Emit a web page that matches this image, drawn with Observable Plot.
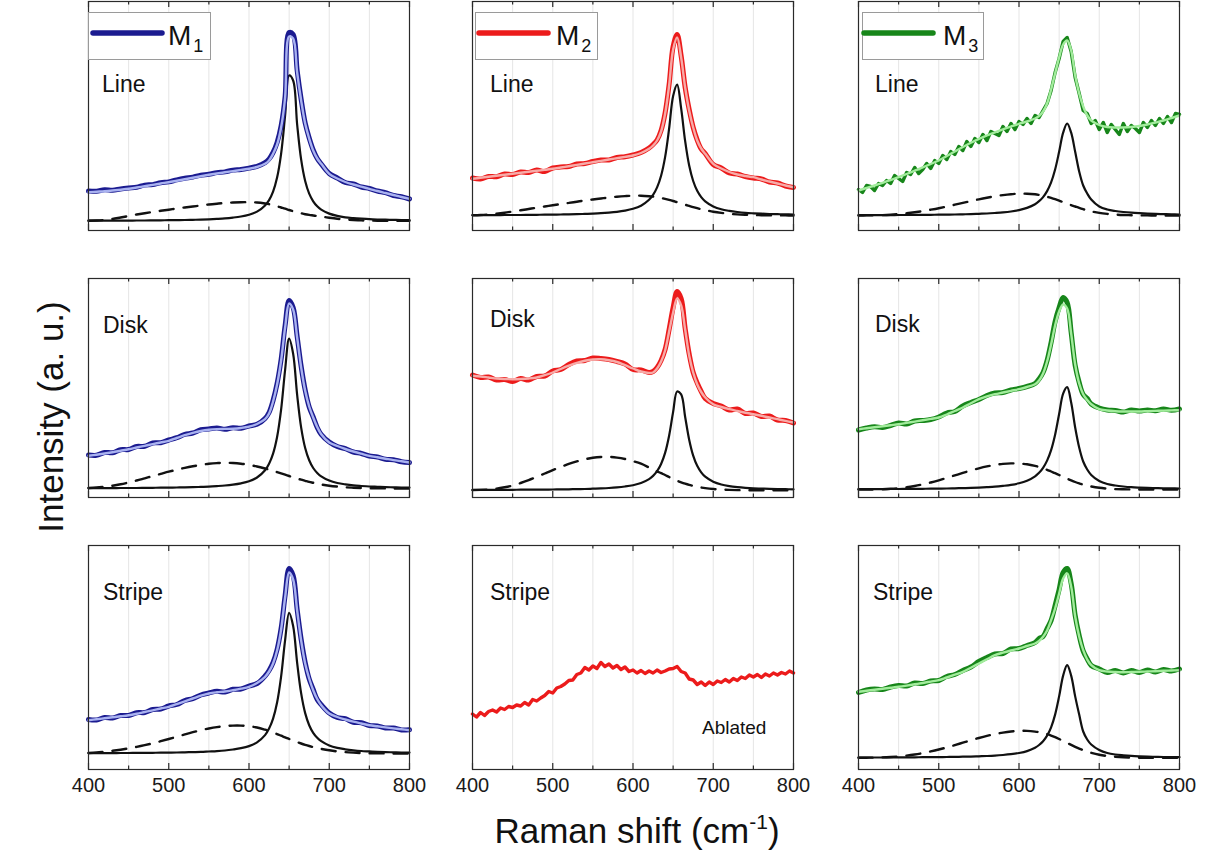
<!DOCTYPE html>
<html><head><meta charset="utf-8">
<script src="https://cdn.jsdelivr.net/npm/d3@7"></script>
<script src="https://cdn.jsdelivr.net/npm/@observablehq/plot@0.6"></script>
<style>
body{margin:0;background:#fff;}
#fig{position:relative;width:1207px;height:861px;overflow:hidden;font-family:"Liberation Sans",Arial,sans-serif;background:#fff;}
.panel{position:absolute;}
#overlay{position:absolute;left:0;top:0;pointer-events:none;}
</style></head>
<body><div id="fig"></div>
<script>
// Raman shift grid (cm^-1) for fits and components
const shift = [400,410,420,430,440,450,460,470,480,490,500,510,520,530,540,550,560,570,580,590,600,610,620,
  625,630,635,640,645,650,655,660,665,670,675,680,685,690,
  700,710,720,730,740,750,760,770,780,790,800];
// finer grid used by the two noisiest raw spectra
const shiftFine = [400,405,410,415,420,425,430,435,440,445,450,455,460,465,470,475,480,485,490,495,
  500,505,510,515,520,525,530,535,540,545,550,555,560,565,570,575,580,585,590,595,
  600,605,610,615,620,625,630,635,640,645,650,655,660,665,670,675,680,685,690,695,
  700,705,710,715,720,725,730,735,740,745,750,755,760,765,770,775,780,785,790,795,800];
const majorTicks = [400,500,600,700,800];
const minorTicks = [450,550,650,750];
const gridTicks = [450,500,550,600,650,700,750];

const materials = ["M1","M2","M3"];
const samples = ["Line","Disk","Stripe"];
const darkColors = ["#1b1b90","#ec1b1b","#17861a"];
const lightColors = ["#a9b2f0","#f7aba8","#a2ec9c"];

// M1 Line
const m1LineRaw = [39.5,39.2,40.8,40.3,41.6,42.5,43.2,45.4,45.9,47.8,48.6,50.6,52.2,53.4,55.3,56.2,57.9,58.6,60.4,61,62.4,64.2,67.8,
  71.5,78,88,104.5,134,198,196,160,131,107.5,92.5,80.5,72,66.5,
  57,52.5,48,46.5,43.5,42,39.5,37.8,35,33.8,31.5];
const m1LineFit = [38.3,38.8,39.3,40,40.8,41.7,43,44.3,45.6,47,48.3,49.8,51.3,52.8,54.3,55.7,57,58.2,59.4,60.6,61.7,63.5,66.7,
  70,76.7,86,103,133,194,192,158,130,107,92,80,72,66.7,
  56.7,52,48.5,46,43.8,41.7,39.5,37.5,35.5,33.5,31.7];
const m1LinePeak = [9.8,9.8,9.8,9.9,9.9,9.9,10,10,10.1,10.2,10.3,10.4,10.5,10.7,10.9,11.2,11.6,12.1,12.9,14,15.8,18.9,25.1,
  30.4,38.9,52.9,76.7,115,155,150,106,70.8,49.5,36.8,29.2,24.2,20.8,
  16.9,14.6,13.2,12.4,11.8,11.3,11,10.8,10.6,10.4,10.3];
const m1LineBroad = [9.8,10,10.5,11.5,13,14.5,16,17.3,18.5,19.7,20.8,22,23,24,25,26,26.8,27.5,28,28.3,28.3,28,27,
  26.3,25.3,24.2,23,21.8,20.5,19.3,18.2,17.2,16.3,15.6,15,14.4,13.9,
  12.8,11.8,11,10.5,10.1,9.9,9.8,9.8,9.8,9.8,9.8];

// M2 Line
const m2LineRaw = [52.5,51.5,54,53.8,56.5,56,58.5,58,60.5,59,62.5,63.5,64,66.5,67,69,70.5,70.5,73,73.8,75.5,78,82.5,
  86,90.5,100,117.5,146,184,196,174.5,143,121,103,90.5,81.5,77,
  66,62.5,57.5,56.5,54,52.5,51.5,48.5,47.5,44.5,43];
const m2LineFit = [51.7,52.7,53.7,54.7,55.7,56.7,57.7,58.7,59.7,60.7,61.7,63,64.3,65.6,67,68.3,69.6,71,72.3,73.6,75,77.5,81.7,
  85,90,99,116.7,145,181,193,173,143,120,103,90,82,76.7,
  66.7,62,58.5,56,54.5,53.3,51,49,47,45,43.3];
const m2LinePeak = [15.3,15.4,15.4,15.4,15.5,15.5,15.5,15.6,15.7,15.8,15.9,16,16.1,16.3,16.6,16.9,17.3,17.9,18.7,19.9,21.7,24.8,30.7,
  35.6,43.1,54.8,73.4,101.8,134.5,145.9,122.1,89.3,64.9,49.5,39.7,33.4,29.2,
  24.1,21.2,19.6,18.5,17.7,17.2,16.8,16.5,16.3,16.1,16];
const m2LineBroad = [15.2,15.5,16,16.8,17.8,19,20.2,21.5,22.8,24,25.2,26.4,27.6,28.8,30,31,32,33,33.8,34.4,34.8,34.8,34.3,
  33.9,33.3,32.5,31.6,30.6,29.5,28.3,27.1,25.8,24.6,23.4,22.3,21.3,20.4,
  18.8,17.6,16.7,16.1,15.7,15.4,15.3,15.2,15.1,15.1,15];

// M3 Line (raw on the fine grid)
const m3LineRaw = [41,38,45,44,40,47,45,50,47,55,
  52,49,58,56,63,57,61,67,62,70,
  67,75,71,79,76,84,80,89,84,92,
  88,96,90,99,97,95,104,99,107,101,
  109,106,112,107,115,113,120,127,140,158,
  172,189,193,179,153,137,120,117,107,110,
  101,108,98,106,101,96,107,99,105,102,
  98,108,103,110,105,112,107,114,108,117,116];
const m3LineFit = [40,42.5,45,47.7,50.5,53.3,56.5,59.8,63.1,66.5,70,74.5,79,83.5,87.8,91.7,95,98.2,101.2,104,106.7,109,112,
  114.5,119,127,141,157,173,186,190,180,155,137,124,115,110,
  105.5,103.5,103,103,103.5,104.5,106,108,110,112.5,115];
const m3LinePeak = [15.3,15.3,15.4,15.4,15.4,15.5,15.5,15.6,15.6,15.7,15.8,15.9,16,16.2,16.4,16.7,17,17.5,18.1,19,20.4,22.6,26.3,
  29.3,33.4,39.4,48.1,61,78.7,97.8,107,97.8,78.7,59,45,37,31,
  24,21,19.5,18.5,17.8,17.3,16.9,16.6,16.4,16.2,16];
const m3LineBroad = [15,15.1,15.2,15.4,15.8,16.4,17.2,18.2,19.4,20.8,22.3,24,25.8,27.6,29.4,31.2,32.8,34.2,35.4,36.3,36.8,36.8,36.2,
  35.6,34.8,33.8,32.6,31.3,29.9,28.4,26.9,25.4,24,22.6,21.3,20.1,19.1,
  17.6,16.6,15.9,15.5,15.3,15.1,15.1,15,15,15,15];

// M1 Disk
const m1DiskRaw = [42.5,42.2,45,44.8,47.8,48,51,51.2,54.5,54.8,57.5,59.8,63.2,64.5,67.8,68.5,69.5,68.2,69.8,69.2,71.5,73.2,79,
  85,97,114,138,172,197,190,161,131,107.5,90.5,80.5,70,63,
  55.5,51,48.8,45.5,44,41.5,40.5,38.2,37.8,35.8,35];
const m1DiskFit = [41.7,42.8,44,45.3,46.8,48.3,50,51.7,53.4,55,56.7,59.5,62.3,64.6,66.5,67.8,68.4,68.6,68.8,69.5,70.8,73.5,78.3,
  84,96,113,137,170,194,188,160,130,106.7,91,80,70.5,63.3,
  55,51.5,48.5,46,43.8,41.7,40.2,38.8,37.4,36.2,35];
const m1DiskPeak = [9.3,9.3,9.4,9.4,9.5,9.5,9.5,9.6,9.7,9.8,9.9,10,10.1,10.3,10.6,10.9,11.4,12,12.9,14.2,16.2,20,27.3,
  33.8,43.9,60.5,87.8,127.7,158.8,143.7,102.6,69.9,49.5,37.2,29.5,24.6,21.1,
  16.9,14.5,13.1,12.1,11.5,11,10.7,10.4,10.2,10,9.9];
const m1DiskBroad = [9.5,10,10.8,11.8,13.2,15,17,19.2,21.4,23.6,25.8,27.8,29.6,31.2,32.6,33.7,34.4,34.7,34.5,33.8,32.6,31,29,
  27.9,26.7,25.4,24.1,22.8,21.5,20.2,19,17.8,16.7,15.6,14.7,13.8,13,
  11.8,10.9,10.2,9.8,9.5,9.3,9.2,9.1,9,9,9];

// M2 Disk
const m2DiskRaw = [122.5,120,120.5,117.5,118,116,119,117.5,121,121.5,126.5,128,133,136.5,137,139.5,139,138,136,133.5,128,127.5,125,
  126,130,137,148,168,190,206,199,169,143.5,125,114.5,106,99,
  94,91.5,87.5,88.5,84,84.5,81,81.5,77.5,77,74.5];
const m2DiskFit = [121.7,121,120,119,118.5,118.3,118.5,119,120,122.3,125,128.5,131.8,134.7,136.8,138,138.2,137.3,135.5,132.3,129,126,124.5,
  125,129,136,147,166,185,199,192,168,142,125,113.3,105.5,100,
  93.3,90.5,88.3,86.5,84.8,83.3,81.7,80,78.3,76.6,75];
const m2DiskPeak = [7.6,7.6,7.6,7.6,7.7,7.7,7.8,7.8,7.8,7.9,8,8.1,8.2,8.4,8.5,8.8,9.1,9.5,10.1,11,12.3,14.5,18.4,
  21.6,26.3,33.5,44.6,61.8,85.6,106,103.1,80.5,57.8,41.9,31.7,25.2,20.8,
  15.8,13,11.4,10.4,9.7,9.2,8.9,8.6,8.4,8.3,8.1];
const m2DiskBroad = [7.4,7.6,8,8.8,10.2,12,14.5,17.4,20.6,24,27.4,30.6,33.6,36.1,38.2,39.7,40.5,40.6,39.9,38.5,36.4,33.8,30,
  28,26.2,24.3,22.5,20.5,18.6,16.8,15.2,13.8,12.6,11.6,10.7,10,9.4,
  8.5,7.9,7.6,7.4,7.3,7.3,7.3,7.3,7.3,7.3,7.3];

// M3 Disk
const m3DiskRaw = [67.5,69.5,70.8,70,72,74.5,73.5,76.5,77,78,80.5,84.5,86,91.5,95,98,102,104.5,105,107.5,109,111,114,
  118.5,125,137,155,176,190,200,195,165,132,115,103,99,93.5,
  89.5,87.5,87,85.5,87.5,86.5,87.5,86.8,88.5,87.2,88.5];
const m3DiskFit = [68.3,69.3,70.3,71.3,72.3,73.3,74.6,75.9,77.2,78.6,80,83,86.5,90,94.2,98.3,101.2,103.3,105,106.7,108.3,110.5,113.3,
  117,124,136,153,172,186,193,189,164,133,114,103.3,97.5,93.3,
  88.3,87,86.3,86,86,86,86.3,86.6,86.9,87.1,87.3];
const m3DiskPeak = [8.3,8.4,8.4,8.4,8.5,8.5,8.6,8.6,8.7,8.8,8.9,9,9.2,9.4,9.6,9.9,10.3,10.8,11.6,12.6,14.2,16.8,21.2,
  24.7,29.7,36.9,47.4,62.8,83.5,103.9,110.3,95,70,50,36,28,22.5,
  16.5,13.5,12,11,10.3,9.9,9.6,9.4,9.2,9.1,9];
const m3DiskBroad = [8,8,8.1,8.3,8.7,9.3,10.2,11.5,13.1,15,17.2,19.6,22.1,24.6,27,29.2,31.1,32.6,33.6,34.1,34,33.2,31.6,
  30.5,29.2,27.7,26,24.3,22.5,20.6,18.8,17.1,15.5,14.1,12.9,11.9,11,
  9.7,8.9,8.4,8.2,8.1,8,8,8,8,8,8];

// M1 Stripe
const m1StripeRaw = [50,49.5,52,51.5,54,54,56.8,57,60,60.5,63.5,65,69,70.8,74.5,76.5,78.2,77.5,80.2,80.5,83.5,86,93.5,
  99,107,120,141,174,201,194,160,130,107,90.5,80,70,64.8,
  56.5,52,50.8,47.2,46.8,44,43.5,41.5,41.5,39.5,39.8];
const m1StripeFit = [49.3,50.2,51.2,52.2,53.2,54.3,55.8,57.5,59.2,61,62.7,65.4,68.2,71,73.8,76,77.2,78,79.3,80.8,82.7,86.5,92.7,
  98,106,119,140,172,197,190,159,129,106,91,79.3,70.5,64.3,
  56,52.5,50,47.8,46,44.3,43.2,42.1,41.1,40.2,39.3];
const m1StripePeak = [16.3,16.4,16.4,16.4,16.5,16.5,16.6,16.6,16.7,16.8,16.9,17,17.2,17.4,17.6,18,18.4,19,20,21.3,23.4,27.2,34.4,
  40.9,50.9,67,92.9,129.4,156.7,143.5,106.7,76.1,56.4,44.3,36.7,31.7,28.3,
  24,21.6,20.2,19.2,18.5,18.1,17.7,17.4,17.2,17,16.9];
const m1StripeBroad = [16.5,17,17.8,18.7,19.8,21.1,22.6,24.3,26.2,28.3,30.5,32.8,35.1,37.3,39.3,41,42.4,43.4,43.9,43.9,43.3,42,39.8,
  38.5,37,35.4,33.8,32.1,30.5,28.9,27.4,26,24.7,23.5,22.4,21.4,20.6,
  19.2,18.1,17.4,16.9,16.5,16.3,16.2,16.1,16,16,16];

// M2 Stripe (ablated, no fit; raw on the fine grid)
const m2StripeRaw = [55.5,52.5,57,54,58,59.5,57.5,61.5,60,63,
  62,64.5,63.5,67,64.5,70,68.5,71.5,74,78,
  76.5,81.5,83,85.5,89,89.5,95,96.5,102,99.5,
  103.5,101,107,103,105.5,101.5,104,100,102.5,98,
  99.5,96.5,99,96,98.5,96.5,99.5,97,98.5,100.5,
  101,103,98,96.5,90.5,89.5,85,87.5,84,87.5,
  85,88.5,87,90,87.5,91,89,92.5,91,94.5,
  92.5,95,92,95.5,93.5,96.5,94.5,97,95.5,98.5,96.5];

// M3 Stripe
const m3StripeRaw = [77,79.5,80.5,80,82.5,84,83.5,86.5,86,88.5,89,93,95,99,102.5,108,112,115.5,116,120.5,121,124,127,
  131,133,141,149,164,180,197,201,186,154,134,118.5,110.5,104,
  100.5,97,99,96.5,99,97,99.5,97.5,100,98.5,100.5];
const m3StripeFit = [77.7,78.7,79.7,80.7,81.7,82.7,83.9,85.2,86.5,87.9,89.3,92,94.8,97.7,101.8,106,110.2,114.3,116.8,119,121,123.5,126,
  128.5,132.7,139,149.3,161,176,191,196,183,153,133,119.3,110,104.3,
  99.3,98,97.5,97.3,97.5,97.7,98,98.3,98.7,99,99.3];
const m3StripePeak = [12,12,12,12,12.1,12.1,12.2,12.2,12.3,12.3,12.4,12.5,12.6,12.8,12.9,13.2,13.5,13.9,14.5,15.3,16.5,18.4,21.8,
  24.5,28.3,33.9,42.2,54.9,73.1,93.9,104.4,93.9,73.1,54.9,38,30,25,
  19.5,16.5,15,14.2,13.6,13.2,12.9,12.7,12.5,12.4,12.3];
const m3StripeBroad = [11.7,11.8,11.9,12.1,12.5,13.1,13.9,15,16.4,18.1,20,22.1,24.4,26.8,29.2,31.5,33.6,35.4,36.9,38,38.6,38.6,37.9,
  37.3,36.4,35.3,33.9,32.3,30.5,28.6,26.6,24.6,22.7,20.9,19.3,17.9,16.7,
  14.8,13.5,12.7,12.2,12,11.8,11.7,11.7,11.7,11.7,11.7];

const series = [
  [ {raw:m1LineRaw, fit:m1LineFit, peak:m1LinePeak, broad:m1LineBroad},
    {raw:m2LineRaw, fit:m2LineFit, peak:m2LinePeak, broad:m2LineBroad},
    {raw:m3LineRaw, rawX:shiftFine, fit:m3LineFit, peak:m3LinePeak, broad:m3LineBroad} ],
  [ {raw:m1DiskRaw, fit:m1DiskFit, peak:m1DiskPeak, broad:m1DiskBroad},
    {raw:m2DiskRaw, fit:m2DiskFit, peak:m2DiskPeak, broad:m2DiskBroad},
    {raw:m3DiskRaw, fit:m3DiskFit, peak:m3DiskPeak, broad:m3DiskBroad} ],
  [ {raw:m1StripeRaw, fit:m1StripeFit, peak:m1StripePeak, broad:m1StripeBroad},
    {raw:m2StripeRaw, rawX:shiftFine, fit:null, peak:null, broad:null, note:"Ablated"},
    {raw:m3StripeRaw, fit:m3StripeFit, peak:m3StripePeak, broad:m3StripeBroad} ]
];

// layout
const colLeft = [88, 472, 858];
const colWidth = 321;
const rowTop = [1, 278, 545];
const rowHeight = [229, 219, 224];
const mL = 22, mR = 22, mT = 4;
const axisColor = "#2a2a2a";

const fig = document.getElementById("fig");

series.forEach((rowSeries, r) => {
  rowSeries.forEach((s, c) => {
    const H = rowHeight[r];
    const mB = r === 2 ? 36 : 4;
    const comp = shift.map((x, i) => ({
      x,
      fit: s.fit ? s.fit[i] : null,
      peak: s.peak ? s.peak[i] : null,
      broad: s.broad ? s.broad[i] : null
    }));
    const rx = s.rawX || shift;
    const rawData = rx.map((x, i) => ({x, y: s.raw[i]}));
    const fine = !!s.rawX;
    const marks = [
      Plot.gridX(gridTicks, {stroke: "#e2e2e2", strokeOpacity: 1, strokeWidth: 0.9})
    ];
    if (s.broad) marks.push(Plot.line(comp, {x: "x", y: "broad", stroke: "#111", strokeWidth: 2.4, strokeDasharray: "14,10", curve: "catmull-rom"}));
    if (s.peak) marks.push(Plot.line(comp, {x: "x", y: "peak", stroke: "#111", strokeWidth: 2.2, curve: "catmull-rom"}));
    marks.push(Plot.line(rawData, {x: "x", y: "y", stroke: darkColors[c], strokeWidth: fine ? 3.4 : 5, curve: fine ? "linear" : "catmull-rom"}));
    if (s.fit) marks.push(Plot.line(comp, {x: "x", y: "fit", stroke: lightColors[c], strokeWidth: 2.4, curve: "catmull-rom"}));
    marks.push(
      Plot.frame({stroke: axisColor, strokeWidth: 1.2}),
      // inward ticks on the bottom and top edges
      Plot.ruleX(majorTicks, {x: d => d, y1: 0, y2: 6, stroke: axisColor, strokeWidth: 1.2}),
      Plot.ruleX(minorTicks, {x: d => d, y1: 0, y2: 3.5, stroke: axisColor, strokeWidth: 1.2}),
      Plot.ruleX(majorTicks, {x: d => d, y1: H - 6, y2: H, stroke: axisColor, strokeWidth: 1.2}),
      Plot.ruleX(minorTicks, {x: d => d, y1: H - 3.5, y2: H, stroke: axisColor, strokeWidth: 1.2})
    );
    if (r === 2) {
      marks.push(Plot.axisX(majorTicks, {anchor: "bottom", tickSize: 0, tickPadding: 8, fontSize: 20, label: null, tickFormat: d => String(d), fill: "#1a1a1a"}));
    }
    const chart = Plot.plot({
      width: colWidth + mL + mR,
      height: H + mT + mB,
      marginLeft: mL, marginRight: mR, marginTop: mT, marginBottom: mB,
      x: r === 2 ? {domain: [400, 800]} : {domain: [400, 800], axis: null},
      y: {domain: [0, H], axis: null},
      style: {fontFamily: "'Liberation Sans', Arial, sans-serif", fontSize: "20px", background: "transparent", overflow: "visible", color: "#1a1a1a"},
      marks
    });
    const div = document.createElement("div");
    div.className = "panel";
    div.style.left = (colLeft[c] - mL) + "px";
    div.style.top = (rowTop[r] - mT) + "px";
    div.appendChild(chart);
    fig.appendChild(div);
  });
});

// overlay: legends, panel labels, axis titles
const svg = d3.select("#fig").append("svg").attr("id", "overlay")
  .attr("width", 1207).attr("height", 861)
  .style("font-family", "'Liberation Sans', Arial, sans-serif");

const legendBoxes = [
  {x: 88, w: 122, lx1: 93, lx2: 162, tx: 168},
  {x: 475, w: 122, lx1: 479, lx2: 548, tx: 556},
  {x: 862, w: 121, lx1: 864, lx2: 933, tx: 943}
];
legendBoxes.forEach((b, c) => {
  svg.append("rect").attr("x", b.x + 0.5).attr("y", 12.5).attr("width", b.w).attr("height", 47)
    .attr("fill", "#fff").attr("stroke", "#9a9a9a").attr("stroke-width", 1);
  svg.append("line").attr("x1", b.lx1).attr("x2", b.lx2).attr("y1", 33).attr("y2", 33)
    .attr("stroke", darkColors[c]).attr("stroke-width", 5.5).attr("stroke-linecap", "round");
  const t = svg.append("text").attr("x", b.tx).attr("y", 45).attr("font-size", 28).attr("fill", "#111");
  t.append("tspan").text(materials[c].charAt(0));
  t.append("tspan").attr("font-size", 18).attr("dy", 7).attr("dx", 2).text(materials[c].slice(1));
});

const labelPos = [
  [[102, 92], [490, 92], [875, 92]],
  [[103, 333], [490, 327], [875, 332]],
  [[103, 600], [490, 600], [873, 600]]
];
labelPos.forEach((row, r) => row.forEach(([x, y]) => {
  svg.append("text").attr("x", x).attr("y", y).attr("font-size", 23).attr("fill", "#111").text(samples[r]);
}));
svg.append("text").attr("x", 702).attr("y", 734).attr("font-size", 19).attr("fill", "#111").text(series[2][1].note);

// axis titles
const xt = svg.append("text").attr("x", 637).attr("y", 843).attr("text-anchor", "middle").attr("font-size", 35).attr("fill", "#111");
xt.append("tspan").text("Raman shift (cm");
xt.append("tspan").attr("font-size", 21).attr("dy", -14).text("-1");
xt.append("tspan").attr("dy", 14).text(")");

svg.append("text").attr("transform", "translate(63,417) rotate(-90)").attr("text-anchor", "middle")
  .attr("font-size", 35).attr("fill", "#111").text("Intensity (a. u.)");
</script>
</body></html>
